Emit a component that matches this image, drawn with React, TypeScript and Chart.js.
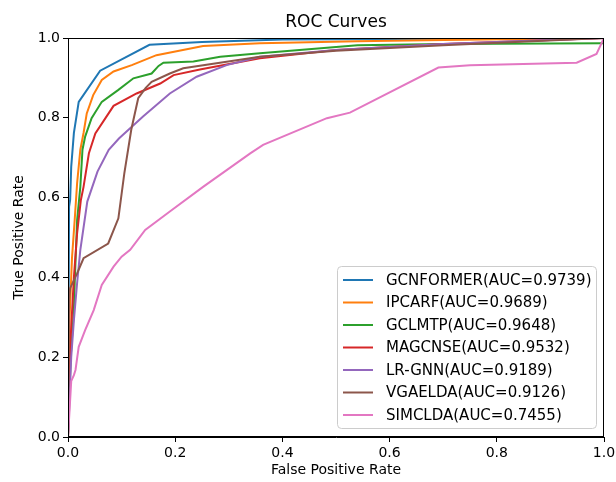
import React, { useEffect, useRef } from "react";
import { Chart, registerables } from "chart.js";

Chart.register(...registerables);

const seriesLabels = [
  "GCNFORMER(AUC=0.9739)",
  "IPCARF(AUC=0.9689)",
  "GCLMTP(AUC=0.9648)",
  "MAGCNSE(AUC=0.9532)",
  "LR-GNN(AUC=0.9189)",
  "VGAELDA(AUC=0.9126)",
  "SIMCLDA(AUC=0.7455)",
];
const seriesColors = ["#1f77b4", "#ff7f0e", "#2ca02c", "#d62728", "#9467bd", "#8c564b", "#e377c2"];

const gcnformerFpr = [0, 0.002, 0.004, 0.006, 0.011, 0.02, 0.06, 0.152, 0.25, 0.4, 0.7, 1];
const gcnformerTpr = [0, 0.577, 0.594, 0.677, 0.762, 0.84, 0.918, 0.983, 0.99, 0.996, 0.998, 1];

const ipcarfFpr = [0, 0.003, 0.0075, 0.0125, 0.017, 0.023, 0.029, 0.035, 0.047, 0.063, 0.085, 0.119, 0.165, 0.252, 0.358, 0.54, 0.7, 1];
const ipcarfTpr = [0, 0.3, 0.45, 0.544, 0.636, 0.72, 0.762, 0.811, 0.857, 0.895, 0.916, 0.932, 0.957, 0.98, 0.987, 0.992, 0.995, 1];

const gclmtpFpr = [0, 0.005, 0.011, 0.0125, 0.017, 0.023, 0.027, 0.032, 0.044, 0.063, 0.094, 0.122, 0.156, 0.169, 0.178, 0.234, 0.284, 0.358, 0.54, 0.7, 1];
const gclmtpTpr = [0, 0.2, 0.318, 0.386, 0.544, 0.627, 0.72, 0.753, 0.799, 0.84, 0.87, 0.899, 0.911, 0.93, 0.938, 0.941, 0.953, 0.962, 0.982, 0.985, 0.987];

const magcnseFpr = [0, 0.005, 0.011, 0.017, 0.024, 0.029, 0.039, 0.051, 0.085, 0.128, 0.172, 0.197, 0.246, 0.358, 0.5, 0.7, 1];
const magcnseTpr = [0, 0.25, 0.4, 0.511, 0.594, 0.627, 0.711, 0.761, 0.83, 0.861, 0.886, 0.907, 0.921, 0.949, 0.97, 0.985, 1];

const lrgnnFpr = [0, 0.006, 0.011, 0.017, 0.023, 0.036, 0.055, 0.076, 0.095, 0.14, 0.19, 0.24, 0.296, 0.358, 0.5, 0.7, 1];
const lrgnnTpr = [0, 0.2, 0.293, 0.386, 0.469, 0.59, 0.665, 0.72, 0.748, 0.803, 0.861, 0.903, 0.932, 0.953, 0.97, 0.985, 1];

const vgaeldaFpr = [0, 0.002, 0.004, 0.017, 0.029, 0.075, 0.094, 0.105, 0.118, 0.131, 0.145, 0.156, 0.19, 0.215, 0.358, 0.5, 0.7, 1];
const vgaeldaTpr = [0, 0.34, 0.373, 0.41, 0.448, 0.485, 0.548, 0.66, 0.77, 0.849, 0.875, 0.89, 0.911, 0.924, 0.953, 0.968, 0.982, 1];

const simcldaFpr = [0, 0.003, 0.006, 0.011, 0.014, 0.02, 0.032, 0.048, 0.063, 0.085, 0.1, 0.116, 0.144, 0.19, 0.252, 0.34, 0.364, 0.483, 0.526, 0.691, 0.75, 0.949, 0.986, 1];
const simcldaTpr = [0, 0.07, 0.14, 0.155, 0.168, 0.226, 0.268, 0.318, 0.381, 0.427, 0.452, 0.469, 0.519, 0.565, 0.627, 0.711, 0.732, 0.799, 0.813, 0.926, 0.932, 0.938, 0.96, 1];

const fprSeries = [gcnformerFpr, ipcarfFpr, gclmtpFpr, magcnseFpr, lrgnnFpr, vgaeldaFpr, simcldaFpr];
const tprSeries = [gcnformerTpr, ipcarfTpr, gclmtpTpr, magcnseTpr, lrgnnTpr, vgaeldaTpr, simcldaTpr];

const axisTicks = [0, 0.2, 0.4, 0.6, 0.8, 1.0];
const chartTitle = "ROC Curves";
const xAxisTitle = "False Positive Rate";
const yAxisTitle = "True Positive Rate";

const FONT = "'DejaVu Sans', sans-serif";

const framePlugin = {
  id: "frame",
  afterDatasetsDraw(chart: any) {
    const { ctx, chartArea } = chart;
    ctx.save();
    ctx.strokeStyle = "#000";
    ctx.lineWidth = 1;
    ctx.strokeRect(chartArea.left + 0.5, chartArea.top + 0.5, chartArea.right - chartArea.left - 1, chartArea.bottom - chartArea.top - 1);
    ctx.restore();
  },
};

const titlePlugin = {
  id: "mplTitle",
  afterDraw(chart: any) {
    const { ctx, chartArea } = chart;
    ctx.save();
    ctx.fillStyle = "#000";
    ctx.font = `17px ${FONT}`;
    ctx.textAlign = "center";
    ctx.textBaseline = "alphabetic";
    ctx.fillText(chartTitle, (chartArea.left + chartArea.right) / 2, 26.5);
    ctx.restore();
  },
};

const legendPlugin = {
  id: "mplLegend",
  afterDraw(chart: any) {
    const { ctx } = chart;
    const x0 = 337.5, y0 = 266.5, w = 259, h = 162, r = 4;
    ctx.save();
    ctx.beginPath();
    ctx.moveTo(x0 + r, y0);
    ctx.lineTo(x0 + w - r, y0);
    ctx.arcTo(x0 + w, y0, x0 + w, y0 + r, r);
    ctx.lineTo(x0 + w, y0 + h - r);
    ctx.arcTo(x0 + w, y0 + h, x0 + w - r, y0 + h, r);
    ctx.lineTo(x0 + r, y0 + h);
    ctx.arcTo(x0, y0 + h, x0, y0 + h - r, r);
    ctx.lineTo(x0, y0 + r);
    ctx.arcTo(x0, y0, x0 + r, y0, r);
    ctx.closePath();
    ctx.fillStyle = "rgba(255,255,255,0.8)";
    ctx.fill();
    ctx.strokeStyle = "#cccccc";
    ctx.lineWidth = 1;
    ctx.stroke();
    chart.data.datasets.forEach((ds: any, i: number) => {
      const yc = 280 + i * 22.5;
      ctx.beginPath();
      ctx.strokeStyle = ds.borderColor;
      ctx.lineWidth = 2;
      ctx.moveTo(343, yc);
      ctx.lineTo(373, yc);
      ctx.stroke();
      ctx.fillStyle = "#000";
      ctx.font = `15px ${FONT}`;
      ctx.textAlign = "left";
      ctx.textBaseline = "middle";
      ctx.fillText(ds.label, 386, yc + 1);
    });
    ctx.restore();
  },
};

export default function App() {
  const canvasRef = useRef<HTMLCanvasElement | null>(null);

  useEffect(() => {
    if (!canvasRef.current) return;
    const datasets = seriesLabels.map((label, i) => ({
      label,
      data: fprSeries[i].map((x, j) => ({ x, y: tprSeries[i][j] })),
      borderColor: seriesColors[i],
      backgroundColor: seriesColors[i],
      borderWidth: 2,
      pointRadius: 0,
      tension: 0,
      fill: false,
      order: seriesLabels.length - 1 - i,
    }));
    const tickFont = { family: FONT, size: 14, lineHeight: 1.0 };
    const chart = new Chart(canvasRef.current, {
      type: "line",
      data: { datasets },
      plugins: [framePlugin, titlePlugin, legendPlugin],
      options: {
        animation: false,
        responsive: false,
        events: [],
        layout: { padding: { top: 38, right: 12, left: 0, bottom: 0 } },
        plugins: { legend: { display: false }, title: { display: false }, tooltip: { enabled: false } },
        scales: {
          x: {
            type: "linear",
            min: 0,
            max: 1,
            afterFit: (s: any) => { s.height = 45; s.paddingLeft = 0; s.paddingRight = 0; },
            afterBuildTicks: (s: any) => { s.ticks = axisTicks.map((v) => ({ value: v })); },
            ticks: { color: "#000", font: tickFont, padding: 4, callback: (v: any) => Number(v).toFixed(1), maxRotation: 0 },
            grid: { display: true, drawOnChartArea: false, drawTicks: true, tickLength: 5, color: "#000", tickWidth: 1 },
            border: { display: true, color: "#000", width: 1 },
            title: { display: true, text: xAxisTitle, color: "#000", font: { family: FONT, size: 14 }, padding: { top: 0, bottom: 3 } },
          },
          y: {
            type: "linear",
            min: 0,
            max: 1,
            afterFit: (s: any) => { s.width = 68; s.paddingTop = 0; s.paddingBottom = 0; },
            afterBuildTicks: (s: any) => { s.ticks = axisTicks.map((v) => ({ value: v })); },
            ticks: { color: "#000", font: tickFont, padding: 3, callback: (v: any) => Number(v).toFixed(1) },
            grid: { display: true, drawOnChartArea: false, drawTicks: true, tickLength: 5, color: "#000", tickWidth: 1 },
            border: { display: true, color: "#000", width: 1 },
            title: { display: true, text: yAxisTitle, color: "#000", font: { family: FONT, size: 14 }, padding: { top: 11, bottom: 0 } },
          },
        },
      } as any,
    });
    return () => chart.destroy();
  }, []);

  return (
    <div style={{ position: "absolute", left: 0, top: 0, width: 616, height: 482, background: "#fff" }}>
      <canvas ref={canvasRef} width={616} height={482} style={{ width: 616, height: 482 }} />
    </div>
  );
}
